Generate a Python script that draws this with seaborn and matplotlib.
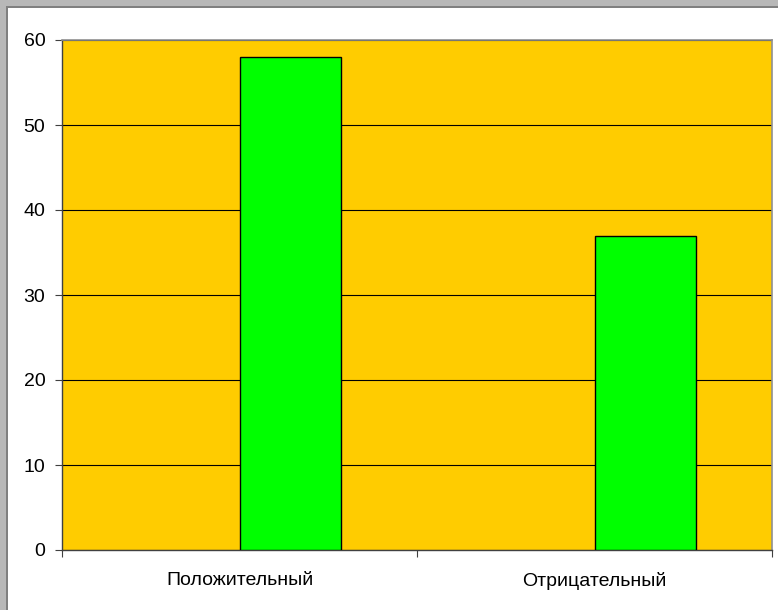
import pandas as pd
import matplotlib
matplotlib.use("Agg")
import matplotlib.pyplot as plt
import seaborn as sns
from matplotlib.patches import Rectangle

# data
categories = ["Положительный", "Отрицательный"]
series_names = ["empty", "count"]
empty_values = [float("nan"), float("nan")]
count_values = [58, 37]
y_ticks = [0, 10, 20, 30, 40, 50, 60]

df = pd.DataFrame({
    "category": categories * 2,
    "series": [series_names[0]] * 2 + [series_names[1]] * 2,
    "value": empty_values + count_values,
})

sns.set_style("white")
plt.rcParams["font.family"] = ["Liberation Sans", "DejaVu Sans"]

fig = plt.figure(figsize=(7.78, 6.10), dpi=100)
fig.patch.set_facecolor("white")
ax = fig.add_axes([62 / 778, 60 / 610, 710 / 778, 510 / 610])
ax.set_facecolor("#FFCC00")

sns.barplot(
    data=df, x="category", y="value", hue="series",
    hue_order=series_names, order=categories,
    palette={"empty": "#00FF00", "count": "#00FF00"},
    saturation=1, width=0.57, dodge=True, gap=0,
    edgecolor="black", linewidth=1, legend=False, ax=ax,
    zorder=3,
)

ax.set_ylim(0, 60)
ax.set_xlim(-0.5, 1.5)
ax.set_yticks(y_ticks)
ax.yaxis.grid(True, color="black", linewidth=0.8, zorder=0)
ax.set_axisbelow(True)
ax.tick_params(axis="y", direction="out", length=5, width=0.8, color="#404040",
               labelsize=14, labelcolor="black", left=True, pad=7)
ax.set_xticks([0, 1])
ax.set_xticklabels(categories)
ax.tick_params(axis="x", which="major", length=0, labelsize=14, labelcolor="black", pad=16)
ax.set_xticks([-0.5, 0.5, 1.5], minor=True)
ax.tick_params(axis="x", which="minor", direction="out", length=5, width=0.8,
               color="#404040", bottom=True)
ax.set_xlabel("")
ax.set_ylabel("")

for side in ["left", "bottom"]:
    ax.spines[side].set_color("#404040")
    ax.spines[side].set_linewidth(1)
for side in ["top", "right"]:
    ax.spines[side].set_visible(True)
    ax.spines[side].set_color("#909090")
    ax.spines[side].set_linewidth(1.2)

# window frame on top and left
fig.patches.append(Rectangle((0, 1 - 6 / 610), 1, 6 / 610, transform=fig.transFigure,
                             facecolor="#b8b8b8", edgecolor="none"))
fig.patches.append(Rectangle((0, 0), 6 / 778, 1, transform=fig.transFigure,
                             facecolor="#b8b8b8", edgecolor="none"))
fig.patches.append(Rectangle((6 / 778, 0), 1.5 / 778, 1 - 6 / 610, transform=fig.transFigure,
                             facecolor="#808080", edgecolor="none"))
fig.patches.append(Rectangle((6 / 778, 1 - 7.5 / 610), 1, 1.5 / 610, transform=fig.transFigure,
                             facecolor="#808080", edgecolor="none"))

fig.savefig("out.png", dpi=100)
